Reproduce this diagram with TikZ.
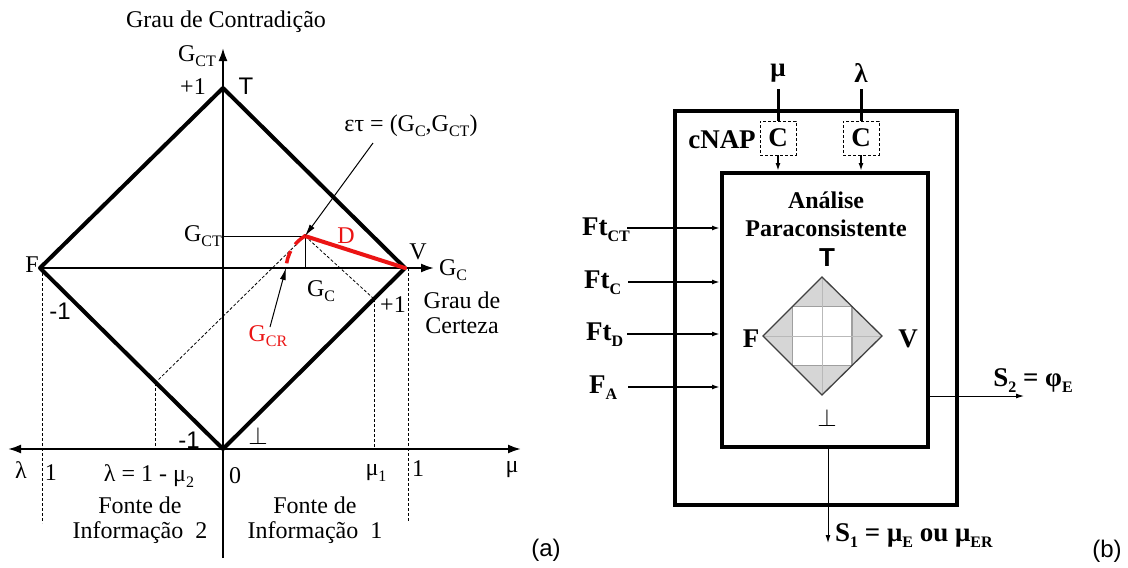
\documentclass[tikz,border=0pt]{standalone}
\usepackage{fontspec}
\setmainfont{Liberation Serif}
\newfontfamily\arialf{Liberation Sans}
\usetikzlibrary{arrows.meta}
\newcommand\sbx[1]{\raisebox{-0.22em}{\fontsize{16}{16}\selectfont #1}}
\newcommand\fa{\fontsize{24}{27}\selectfont}
\newcommand\fbb{\fontsize{27}{30}\selectfont\bfseries}
\definecolor{redline}{RGB}{235,20,20}
\begin{document}
\begin{tikzpicture}[x=1pt,y=-1pt,
  txt/.style={inner sep=0pt,font=\fa},
  stxt/.style={inner sep=0pt,font=\fa\arialf},
  btxt/.style={inner sep=0pt,font=\fbb},
  thickedge/.style={line width=4pt,line cap=round,line join=round},
  axisline/.style={line width=2pt},
  thinline/.style={line width=1pt},
  dashline/.style={line width=0.8pt,dash pattern=on 3pt off 2pt},
  bigtip/.style={-{Latex[length=13pt,width=9pt]}},
  smalltip/.style={-{Latex[length=8pt,width=5pt]}},
  boxline/.style={line width=4pt},
]
\useasboundingbox (0,0) rectangle (1128,568);
\fill[white] (0,0) rectangle (1128,568);

% ---------------- panel (a) ----------------
\coordinate (T) at (223,88);
\coordinate (F) at (40,268);
\coordinate (V) at (405,268);
\coordinate (B) at (223,449);
\coordinate (E) at (305,236);
\coordinate (Eh) at (223,236);
\coordinate (Ev) at (305,268);
\coordinate (ytop) at (223,48);
\coordinate (ybot) at (223,558);
\coordinate (xright) at (434,268);
\coordinate (bl) at (8,449);
\coordinate (br) at (521,449);
\coordinate (M1) at (374,299);
\coordinate (L2) at (155,383);
\coordinate (M1b) at (374,449);
\coordinate (L2b) at (155,449);
\coordinate (dlt) at (42,268);
\coordinate (dlb) at (42,523);
\coordinate (drt) at (408,268);
\coordinate (drb) at (408,521);
\coordinate (Gcr) at (286,268);
\coordinate (etaTail) at (373,143);
\coordinate (gcrTail) at (270,327);

% axes
\draw[axisline,bigtip] (ybot) -- (ytop);
\draw[axisline,bigtip] (F) -- (xright);
\draw[axisline,{Latex[length=13pt,width=9pt]}-{Latex[length=13pt,width=9pt]}] (bl) -- (br);

% dashed guides
\draw[dashline] (dlt) -- (dlb);
\draw[dashline] (drt) -- (drb);
\draw[dashline] (M1) -- (M1b);
\draw[dashline] (L2) -- (L2b);
\draw[dashline] (L2) -- (E);
\draw[dashline] (E) -- (M1);

% diamond
\draw[thickedge] (F) -- (T) -- (V) -- (B) -- cycle;

% thin projections
\draw[thinline] (Eh) -- (E) -- (Ev);

% red parts
\draw[line width=4pt,redline,line cap=round] (E) -- (V);
\draw[line width=3.5pt,redline,dash pattern=on 13pt off 8pt] (E) .. controls (293,243) and (287,255) .. (Gcr);

% pointer arrows
\draw[thinline,-{Latex[length=12pt,width=6pt]}] (etaTail) -- (E);
\draw[thinline,-{Latex[length=12pt,width=6pt]}] (gcrTail) -- (Gcr);

% labels (a)
\node[txt] (ttl) at (226,22) {Grau de Contradição};
\node[txt] (gctTop) at (197,56) {G\sbx{CT}};
\node[txt] (p1top) at (193,87) {+1};
\node[stxt] (Tl) at (246,86) {T};
\node[txt] (eps) at (411,126) {ετ = (G\sbx{C},G\sbx{CT})};
\node[txt] (gctMid) at (203,236) {G\sbx{CT}};
\node[txt,text=redline] (Dl) at (346,236) {D};
\node[txt] (Vl) at (418,252) {V};
\node[txt] (Fl) at (32,265) {F};
\node[txt] (gcAx) at (453,270) {G\sbx{C}};
\node[txt] (gcBel) at (321,291) {G\sbx{C}};
\node[txt,text=redline] (gcrL) at (268,336) {G\sbx{CR}};
\node[txt] (p1r) at (393,305) {+1};
\node[txt,align=center] (gdc) at (462,313) {Grau de\\[-2pt]Certeza};
\node[stxt] (m1u) at (60,311) {-1};
\node[stxt] (m1l) at (189,440) {-1};
\node[txt] (botl) at (258,436) {$\perp$};
\node[txt] (lam) at (21,470) {λ};
\node[txt] (one1) at (51,473) {1};
\node[txt] (lameq) at (149,476) {λ = 1 - μ\sbx{2}};
\node[txt] (zero) at (235,476) {0};
\node[txt] (mu1) at (376,473) {μ\sbx{1}};
\node[txt] (one2) at (418,469) {1};
\node[txt] (mu) at (512,470) {μ};
\node[txt,align=center] (fi2) at (140,520) {Fonte de\\[-2pt]Informação~~2};
\node[txt,align=center] (fi1) at (315,520) {Fonte de\\[-2pt]Informação~~1};
\node[stxt] (pa) at (546,550) {(a)};

% ---------------- panel (b) ----------------
\node[draw,boxline,minimum width=282pt,minimum height=394pt,inner sep=0pt] (outer) at (816,308) {};
\node[draw,boxline,minimum width=206pt,minimum height=274pt,inner sep=0pt] (inner) at (825,310) {};
\node[draw,line width=0.8pt,dash pattern=on 3pt off 2pt,minimum width=36pt,minimum height=34pt,inner sep=0pt,font=\fbb] (C1) at (778,138) {C};
\node[draw,line width=0.8pt,dash pattern=on 3pt off 2pt,minimum width=36pt,minimum height=34pt,inner sep=0pt,font=\fbb] (C2) at (861,138) {C};
\node[btxt] (mul) at (778,73) {μ};
\node[btxt] (laml) at (861,73) {λ};
\coordinate (muin) at (778,89);
\coordinate (lamin) at (861,89);
\draw[line width=3pt] (muin) -- (C1.north);
\draw[line width=3pt] (lamin) -- (C2.north);
\draw[line width=2pt,smalltip] (C1.south) -- (C1.south |- inner.north);
\draw[line width=2pt,smalltip] (C2.south) -- (C2.south |- inner.north);
\node[btxt] (cnap) at (722,140) {cNAP};
\node[inner sep=0pt,font=\fontsize{24}{27}\selectfont\bfseries,align=center] (anl) at (826,214) {Análise\\[1pt]Paraconsistente};

% inputs
\node[btxt,anchor=west] (ftct) at (582,230) {Ft\sbx{CT}};
\node[btxt,anchor=west] (ftc) at (584,283) {Ft\sbx{C}};
\node[btxt,anchor=west] (ftd) at (586,335) {Ft\sbx{D}};
\node[btxt,anchor=west] (fa) at (589,388) {F\sbx{A}};
\coordinate (i1) at (627,228);
\coordinate (i2) at (628,282);
\coordinate (i3) at (627,334);
\coordinate (i4) at (628,387);
\draw[line width=2.5pt,smalltip] (i1) -- (i1 -| inner.west);
\draw[line width=2.5pt,smalltip] (i2) -- (i2 -| inner.west);
\draw[line width=2.5pt,smalltip] (i3) -- (i3 -| inner.west);
\draw[line width=2.5pt,smalltip] (i4) -- (i4 -| inner.west);

% small lattice
\coordinate (sT) at (822,277);
\coordinate (sF) at (763,336);
\coordinate (sV) at (882,336);
\coordinate (sB) at (822,395);
\fill[gray!32] (sF) -- (sT) -- (sV) -- (sB) -- cycle;
\fill[white] (792.5,306.5) rectangle (852,365.5);
\draw[gray!75,line width=1.3pt] (792.5,306.5) rectangle (852,365.5);
\draw[gray!55,line width=1pt] (sT) -- (sB);
\draw[gray!55,line width=1pt] (sF) -- (sV);
\draw[black!75,line width=1.3pt,line join=miter] (sF) -- (sT) -- (sV) -- (sB) -- cycle;
\node[inner sep=0pt,font=\fontsize{26}{28}\selectfont\bfseries\arialf] (sTl) at (827,258) {T};
\node[txt] (sBl) at (827,418) {$\perp$};
\node[btxt] (sFl) at (751,339) {F};
\node[btxt] (sVl) at (908,339) {V};

% outputs
\coordinate (s2s) at (928,396);
\coordinate (s2e) at (1024,396);
\draw[thinline,smalltip] (s2s) -- (s2e);
\node[btxt] (s2l) at (1033,381) {S\sbx{2} = φ\sbx{E}};
\coordinate (s1s) at (828,447);
\coordinate (s1e) at (828,543);
\draw[thinline,smalltip] (s1s) -- (s1e);
\node[btxt,anchor=west] (s1l) at (835,536) {S\sbx{1} = μ\sbx{E} ou μ\sbx{ER}};
\node[stxt] (pb) at (1107,551) {(b)};
\end{tikzpicture}
\end{document}
